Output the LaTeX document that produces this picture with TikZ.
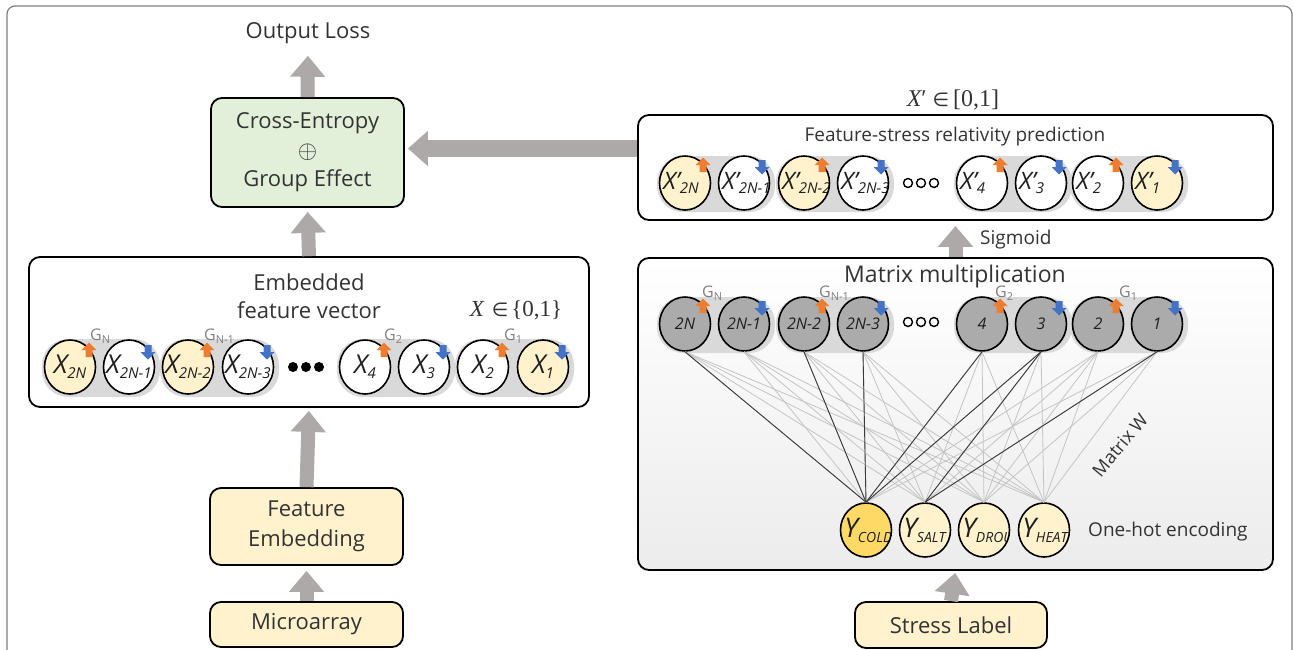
\documentclass[tikz,border=0pt]{standalone}
\usepackage{fontspec}
\setmainfont{Open Sans}
\newfontfamily\serifmath{Liberation Serif}
\newfontfamily\symfont{DejaVu Sans}
\usetikzlibrary{shapes.geometric,arrows.meta,calc}

\definecolor{txt}{HTML}{333333}
\definecolor{framecol}{HTML}{7F7F7F}
\definecolor{flow}{HTML}{ADA9A9}
\definecolor{mint}{HTML}{E2F0D9}
\definecolor{cream}{HTML}{FFF2CC}
\definecolor{gold}{HTML}{FFD966}
\definecolor{unitgray}{HTML}{ABABAB}
\definecolor{pillgray}{HTML}{D9D9D9}
\definecolor{upcol}{HTML}{ED7D31}
\definecolor{downcol}{HTML}{4472C4}
\definecolor{wlight}{HTML}{C4C4C4}
\definecolor{wdark}{HTML}{3A3A3A}
\definecolor{glabel}{HTML}{7F7F7F}
\definecolor{matbottom}{HTML}{ECECEC}

% font size shortcut and cell labels
\newcommand{\fsz}[1]{\fontsize{#1}{#1}\selectfont}
\newcommand{\cellX}[1]{\fsz{26}\itshape X\raisebox{-5pt}{\fsz{15}#1}}
\newcommand{\cellXp}[1]{\fsz{24}\itshape X'\raisebox{-4pt}{\fsz{15}#1}}
\newcommand{\cellY}[1]{\fsz{27}\itshape Y\raisebox{-5pt}{\fsz{14}#1}}
\newcommand{\unitlbl}[1]{\fsz{16}\itshape #1}
\newcommand{\grp}[1]{\fsz{16}G\raisebox{-3pt}{\fsz{11}#1}}

\tikzset{
  uparr/.pic={\fill[upcol] (0,-7.5) -- (7.5,0) -- (3.5,0) -- (3.5,7) -- (-3.5,7) -- (-3.5,0) -- (-7.5,0) -- cycle;},
  downarr/.pic={\fill[downcol] (0,7.5) -- (7.5,0) -- (3.5,0) -- (3.5,-7) -- (-3.5,-7) -- (-3.5,0) -- (-7.5,0) -- cycle;}
}

\begin{document}
\begin{tikzpicture}[x=1pt,y=-1pt,
  plain/.style={text=txt, inner sep=0pt},
  box/.style={draw=black, line width=1.8pt, rounded corners=11pt, inner sep=0pt, text=txt, align=center},
  cell/.style={ellipse, draw=black, line width=1.6pt, inner sep=0pt, minimum width=51pt, minimum height=54pt},
  inlbl/.style={shape=rectangle, draw=none, fill=none, inner sep=0pt, minimum size=0pt, text=black!88},
  ctext/.style={path picture={\node[inlbl] at (path picture bounding box.center) {#1};}},
  wtext/.style={path picture={\node[inlbl, anchor=west] at ([xshift=3pt]path picture bounding box.west) {#1};}},
  glab/.style={text=glabel, inner sep=0pt, anchor=west},
  fat/.style={draw=flow, line width=14pt, -{Triangle[width=34pt,length=21pt]}},
  fatwide/.style={draw=flow, line width=17pt, -{Triangle[width=34pt,length=20pt]}},
  pill/.style={fill=pillgray, rounded corners=26pt},
  wire/.style={draw=wlight, line width=0.8pt},
  hotwire/.style={draw=wdark, line width=0.9pt}
]
\clip (0,0) rectangle (1294,649);
\draw[framecol, line width=1.2pt, rounded corners=8pt] (7,6) rectangle (1292,690);

% ---------- left column ----------
\node[plain, font=\fsz{22}] (out) at (308,33) {Output Loss};
\node[box, fill=mint, minimum width=193pt, minimum height=109pt,
      font=\fontsize{22}{29}\selectfont] (ce) at (307.5,152.5)
      {Cross-Entropy\\\smash{\raisebox{-1pt}{\fsz{25}$\oplus$}}\\Group Effect};
\node[box, minimum width=560pt, minimum height=150pt] (emb) at (309,332) {};
\node[plain, font=\fontsize{22}{28}\selectfont, align=center] (embt) at (309,296) {Embedded\\feature vector};
\node[plain, font=\fsz{23}] (xset) at (516,310) {{\serifmath\itshape X}\hspace{8pt}{\symfont\fsz{19}∈}\hspace{3pt}{\serifmath\{0,1\}}};
\node[box, fill=cream, minimum width=193pt, minimum height=77pt,
      font=\fontsize{22}{30}\selectfont] (fe) at (306.5,526.5) {Feature\\Embedding};
\node[box, fill=cream, minimum width=193pt, minimum height=45pt, font=\fsz{22}] (micro) at (306.5,624.5) {Microarray};

% embedded feature units
\foreach \n/\x in {1/70,2/129,3/188,4/248,5/365,6/424,7/483,8/543}
  \coordinate (pl\n) at (\x,367);
\fill[pill] ($(pl1)+(-28,-28)$) rectangle ($(pl2)+(31,30)$);
\fill[pill] ($(pl3)+(-28,-28)$) rectangle ($(pl4)+(31,30)$);
\fill[pill] ($(pl5)+(-28,-28)$) rectangle ($(pl6)+(31,30)$);
\fill[pill] ($(pl7)+(-28,-28)$) rectangle ($(pl8)+(31,30)$);
\node[cell, fill=cream, ctext={\cellX{2N}}]   (l1) at (pl1) {};
\node[cell, fill=white, ctext={\cellX{2N-1}}] (l2) at (pl2) {};
\node[cell, fill=cream, ctext={\cellX{2N-2}}] (l3) at (pl3) {};
\node[cell, fill=white, ctext={\cellX{2N-3}}] (l4) at (pl4) {};
\node[cell, fill=white, ctext={\cellX{4}}]    (l5) at (pl5) {};
\node[cell, fill=white, ctext={\cellX{3}}]    (l6) at (pl6) {};
\node[cell, fill=white, ctext={\cellX{2}}]    (l7) at (pl7) {};
\node[cell, fill=cream, ctext={\cellX{1}}]    (l8) at (pl8) {};
\foreach \d in {-13,0,13} \fill[black] (306+\d,367) circle[radius=5];
\foreach \n in {1,3,5,7} \pic at ($(l\n)+(19,-17)$) {uparr};
\foreach \n in {2,4,6,8} \pic at ($(l\n)+(19,-15)$) {downarr};
\node[glab] (gl1) at ($(l1)+(20,-31)$) {\grp{N}};
\node[glab] (gl2) at ($(l3)+(16,-31)$) {\grp{N-1}};
\node[glab] (gl3) at ($(l5)+(19,-31)$) {\grp{2}};
\node[glab] (gl4) at ($(l7)+(21,-31)$) {\grp{1}};

% left column flow
\draw[fat, shorten >=12pt] (ce.north) -- (out.south);
\draw[fat, shorten >=4pt] (emb.north) -- (ce.south);
\draw[fat, shorten >=3pt] (fe.north) -- (emb.south);
\draw[fat, shorten >=5pt] (micro.north) -- (fe.south);

% ---------- right column ----------
\node[plain, font=\fsz{24}] (xpset) at (953,100) {{\serifmath\itshape X}{\serifmath′}\hspace{6pt}{\symfont\fsz{19}∈}\hspace{4pt}{\serifmath[0,1]}};
\node[box, minimum width=635pt, minimum height=105pt] (fs) at (955.5,167.5) {};
\node[plain, font=\fsz{19}] (fst) at (955,137) {Feature-stress relativity prediction};
\node[box, top color=white, bottom color=matbottom, minimum width=635pt, minimum height=312pt] (mat) at (955.5,414) {};
\node[plain, font=\fsz{23}] (matt) at (955,277) {Matrix multiplication};
\node[box, fill=cream, minimum width=192pt, minimum height=46pt, font=\fsz{22}] (stress) at (951,625) {Stress Label};

% relativity prediction units
\foreach \n/\x in {1/685,2/744,3/804,4/863,5/982,6/1041,7/1098,8/1157}{
  \coordinate (pr\n) at (\x,183);
  \coordinate (pm\n) at (\x,324);
}
\fill[pill] ($(pr1)+(-28,-27)$) rectangle ($(pr2)+(31,29)$);
\fill[pill] ($(pr3)+(-28,-27)$) rectangle ($(pr4)+(31,29)$);
\fill[pill] ($(pr5)+(-28,-27)$) rectangle ($(pr6)+(31,29)$);
\fill[pill] ($(pr7)+(-28,-27)$) rectangle ($(pr8)+(31,29)$);
\begin{scope}[every node/.append style={minimum width=50pt, minimum height=51pt}]
\node[cell, fill=cream, wtext={\cellXp{2N}}]   (r1) at (pr1) {};
\node[cell, fill=white, wtext={\cellXp{2N-1}}] (r2) at (pr2) {};
\node[cell, fill=cream, wtext={\cellXp{2N-2}}] (r3) at (pr3) {};
\node[cell, fill=white, wtext={\cellXp{2N-3}}] (r4) at (pr4) {};
\node[cell, fill=white, wtext={\cellXp{4}}]    (r5) at (pr5) {};
\node[cell, fill=white, wtext={\cellXp{3}}]    (r6) at (pr6) {};
\node[cell, fill=white, wtext={\cellXp{2}}]    (r7) at (pr7) {};
\node[cell, fill=cream, wtext={\cellXp{1}}]    (r8) at (pr8) {};
\end{scope}
\foreach \d in {-13,0,13} \draw[black, line width=1.4pt] (921+\d,183) circle[radius=4.5];
\foreach \n in {1,3,5,7} \pic at ($(r\n)+(18,-18)$) {uparr};
\foreach \n in {2,4,6,8} \pic at ($(r\n)+(18,-16)$) {downarr};

% matrix multiplication units
\fill[pill] ($(pm1)+(-28,-27)$) rectangle ($(pm2)+(31,29)$);
\fill[pill] ($(pm3)+(-28,-27)$) rectangle ($(pm4)+(31,29)$);
\fill[pill] ($(pm5)+(-28,-27)$) rectangle ($(pm6)+(31,29)$);
\fill[pill] ($(pm7)+(-28,-27)$) rectangle ($(pm8)+(31,29)$);
\begin{scope}[every node/.append style={minimum width=51pt, minimum height=53pt}]
\node[cell, fill=unitgray, ctext={\unitlbl{2N}}]   (m1) at (pm1) {};
\node[cell, fill=unitgray, ctext={\unitlbl{2N-1}}] (m2) at (pm2) {};
\node[cell, fill=unitgray, ctext={\unitlbl{2N-2}}] (m3) at (pm3) {};
\node[cell, fill=unitgray, ctext={\unitlbl{2N-3}}] (m4) at (pm4) {};
\node[cell, fill=unitgray, ctext={\unitlbl{4}}]    (m5) at (pm5) {};
\node[cell, fill=unitgray, ctext={\unitlbl{3}}]    (m6) at (pm6) {};
\node[cell, fill=unitgray, ctext={\unitlbl{2}}]    (m7) at (pm7) {};
\node[cell, fill=unitgray, ctext={\unitlbl{1}}]    (m8) at (pm8) {};
\end{scope}
\foreach \d in {-13,0,13} \draw[black, line width=1.4pt] (921+\d,322) circle[radius=4.5];
\foreach \n in {1,3,5,7} \pic at ($(m\n)+(18,-18)$) {uparr};
\foreach \n in {2,4,6,8} \pic at ($(m\n)+(18,-16)$) {downarr};
\node[glab] (gm1) at ($(m1)+(17,-31)$) {\grp{N}};
\node[glab] (gm2) at ($(m3)+(15,-31)$) {\grp{N-1}};
\node[glab] (gm3) at ($(m5)+(13,-31)$) {\grp{2}};
\node[glab] (gm4) at ($(m7)+(21,-31)$) {\grp{1}};

% one-hot stress units
\begin{scope}[every node/.append style={minimum width=50pt, minimum height=53pt}]
\node[cell, fill=gold,  wtext={\cellY{COLD}}] (y1) at (866,530) {};
\node[cell, fill=cream, wtext={\cellY{SALT}}] (y2) at (925,530) {};
\node[cell, fill=cream, wtext={\cellY{DROU}}] (y3) at (984,530) {};
\node[cell, fill=cream, wtext={\cellY{HEAT}}] (y4) at (1044,530) {};
\end{scope}

% weight matrix W
\foreach \i in {1,...,8}
  \foreach \j in {1,...,4}
    \draw[wire] (m\i.south) -- (y\j.north);
\foreach \i/\j in {1/1,3/1,4/1,5/1,6/1,6/2,8/2}
  \draw[hotwire] (m\i.south) -- (y\j.north);

\node[plain, font=\fsz{19}, anchor=west] (onehot) at (1088,532) {One-hot encoding};
\node[plain, font=\fsz{18}, rotate=50] (mw) at (1120,445) {Matrix W};
\node[plain, font=\fsz{19}, anchor=west] (sig) at (980,240) {Sigmoid};

% right column flow
\draw[fat, shorten >=5pt] (mat.north) -- (fs.south);
\draw[fat, shorten >=2pt] (stress.north) -- (mat.south);
\draw[fatwide, shorten >=3pt] ($(ce.east -| fs.west)+(0,-4)$) -- ($(ce.east)+(0,-4)$);
\end{tikzpicture}
\end{document}
